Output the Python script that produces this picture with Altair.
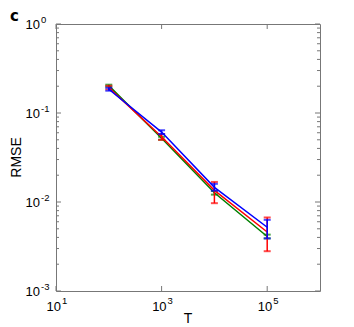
import altair as alt
import pandas as pd

T = [100, 1000, 10000, 100000]

green_mean = [0.203, 0.052, 0.0127, 0.0041]
green_lo = [0.198, 0.050, 0.0121, 0.0039]
green_hi = [0.208, 0.054, 0.0133, 0.0043]

red_mean = [0.193, 0.054, 0.0135, 0.0046]
red_lo = [0.184, 0.050, 0.0097, 0.0028]
red_hi = [0.202, 0.058, 0.0168, 0.0067]

blue_mean = [0.185, 0.061, 0.0146, 0.0052]
blue_lo = [0.178, 0.058, 0.0134, 0.0039]
blue_hi = [0.192, 0.064, 0.0160, 0.0063]

series = [
    ("green", "#008000", green_mean, green_lo, green_hi),
    ("red", "#ff0000", red_mean, red_lo, red_hi),
    ("blue", "#0000ff", blue_mean, blue_lo, blue_hi),
]

x_major = [10, 1000, 100000]
x_exps = ["1", "3", "5"]
y_major = [0.001, 0.01, 0.1, 1.0]
y_exps = ["-3", "-2", "-1", "0"]
y_minor = [m * d for d in [0.001, 0.01, 0.1] for m in range(2, 10)]

W, H = 264, 267
FONT = "Liberation Sans"
AX = "#777777"

xs = alt.Scale(type="log", domain=[10, 1e6], nice=False)
ys = alt.Scale(type="log", domain=[1e-3, 1], nice=False)

noax = dict(axis=None)
layers = []

# inward ticks
ymaj = pd.DataFrame({"y": y_major})
ymin = pd.DataFrame({"y": y_minor})
xmaj = pd.DataFrame({"T": x_major})
for df, ln in [(ymaj, 5), (ymin, 3)]:
    layers.append(alt.Chart(df).mark_rule(color=AX, strokeWidth=1).encode(
        y=alt.Y("y:Q", scale=ys, **noax), x=alt.value(0), x2=alt.value(ln)))
    layers.append(alt.Chart(df).mark_rule(color=AX, strokeWidth=1).encode(
        y=alt.Y("y:Q", scale=ys, **noax), x=alt.value(W), x2=alt.value(W - ln)))
layers.append(alt.Chart(xmaj).mark_rule(color=AX, strokeWidth=1).encode(
    x=alt.X("T:Q", scale=xs, **noax), y=alt.value(H), y2=alt.value(H - 5)))
layers.append(alt.Chart(xmaj).mark_rule(color=AX, strokeWidth=1).encode(
    x=alt.X("T:Q", scale=xs, **noax), y=alt.value(0), y2=alt.value(5)))

# tick labels: base "10" plus raised exponent
xl = pd.DataFrame({"T": x_major, "b": ["10"] * 3, "e": x_exps})
layers.append(alt.Chart(xl).mark_text(font=FONT, fontSize=13, align="right",
                                      baseline="alphabetic", dx=5, color="black").encode(
    x=alt.X("T:Q", scale=xs, **noax), y=alt.value(H + 20), text="b:N"))
layers.append(alt.Chart(xl).mark_text(font=FONT, fontSize=9.5, align="left",
                                      baseline="alphabetic", dx=6, color="black").encode(
    x=alt.X("T:Q", scale=xs, **noax), y=alt.value(H + 13), text="e:N"))

yl = pd.DataFrame({"y": y_major, "b": ["10"] * 4, "e": y_exps})
layers.append(alt.Chart(yl).mark_text(font=FONT, fontSize=13, align="right",
                                      baseline="alphabetic", dy=5, color="black").encode(
    y=alt.Y("y:Q", scale=ys, **noax), x=alt.value(-16), text="b:N"))
layers.append(alt.Chart(yl).mark_text(font=FONT, fontSize=9.5, align="left",
                                      baseline="alphabetic", dy=-1, color="black").encode(
    y=alt.Y("y:Q", scale=ys, **noax), x=alt.value(-15), text="e:N"))

for name, col, m, lo, hi in series:
    df = pd.DataFrame({"T": T, "m": m, "lo": lo, "hi": hi})
    layers.append(alt.Chart(df).mark_line(color=col, strokeWidth=1.5).encode(
        x=alt.X("T:Q", scale=xs, **noax), y=alt.Y("m:Q", scale=ys, **noax)))
    layers.append(alt.Chart(df).mark_rule(color=col, strokeWidth=1.5).encode(
        x=alt.X("T:Q", scale=xs, **noax), y=alt.Y("lo:Q", scale=ys, **noax), y2="hi:Q"))
    for f in ["lo", "hi"]:
        layers.append(alt.Chart(df).mark_tick(color=col, orient="horizontal",
                                              size=7, thickness=2).encode(
            x=alt.X("T:Q", scale=xs, **noax), y=alt.Y(f"{f}:Q", scale=ys, **noax)))

titles = pd.DataFrame({"t": ["T"]})
layers.append(alt.Chart(titles).mark_text(font=FONT, fontSize=14, align="center",
                                          baseline="alphabetic", color="black").encode(
    text="t:N", x=alt.value(W / 2), y=alt.value(H + 32)))
layers.append(alt.Chart(pd.DataFrame({"t": ["RMSE"]})).mark_text(
    font=FONT, fontSize=14, align="center", baseline="middle", angle=270,
    color="black").encode(text="t:N", x=alt.value(-39), y=alt.value(H / 2)))

label = alt.Chart(pd.DataFrame({"t": ["c"]})).mark_text(
    font="DejaVu Sans", fontWeight="bold", fontSize=15, align="left",
    baseline="alphabetic", color="black").encode(
    text="t:N", x=alt.value(-46), y=alt.value(-3))
layers.append(label)

chart = alt.layer(*layers).properties(
    width=W, height=H,
    autosize=alt.AutoSizeParams(type="none"),
    padding={"left": 48, "top": 16, "right": 26, "bottom": 36},
).configure_view(stroke=AX, strokeWidth=1)

chart.save("out.html", embed_options={"renderer": "svg", "actions": False})
